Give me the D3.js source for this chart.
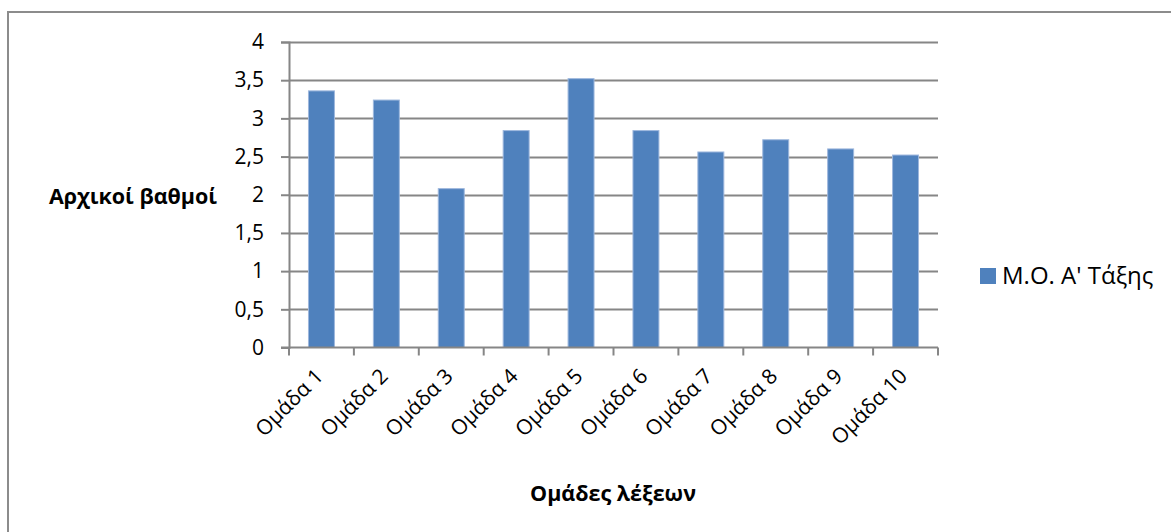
<!DOCTYPE html>
<html>
<head>
<meta charset="utf-8">
<script src="https://cdn.jsdelivr.net/npm/d3@7"></script>
<style>
  html, body { margin: 0; padding: 0; background: #fff; }
  svg { display: block; font-family: "Open Sans", "Noto Sans", sans-serif; }
</style>
</head>
<body>
<svg id="chart" width="1171" height="532"></svg>
<script>
// Category labels along the x axis
const categories = ["Ομάδα 1", "Ομάδα 2", "Ομάδα 3", "Ομάδα 4", "Ομάδα 5",
                    "Ομάδα 6", "Ομάδα 7", "Ομάδα 8", "Ομάδα 9", "Ομάδα 10"];
// Mean score of the first grade per word group
const values = [3.36, 3.24, 2.08, 2.84, 3.52, 2.84, 2.56, 2.72, 2.60, 2.52];
const seriesName = "Μ.Ο. Α' Τάξης";
const yTicks = [0, 0.5, 1, 1.5, 2, 2.5, 3, 3.5, 4];
const yTitle = "Αρχικοί βαθμοί";
const xTitle = "Ομάδες λέξεων";

const svg = d3.select("#chart");
const W = 1171, H = 532;
const plot = { left: 289, right: 938, top: 42, bottom: 347.5 };
const barColor = "#4F81BD";
const gridColor = "#868686";

// Outer frame
svg.append("rect")
  .attr("x", 8).attr("y", 12)
  .attr("width", W + 10).attr("height", H + 10)
  .attr("fill", "none").attr("stroke", "#8c8c8c").attr("stroke-width", 2);

const x = d3.scaleBand().domain(categories)
  .range([plot.left, plot.right]).paddingInner(0.6).paddingOuter(0.3);
const xEdge = d3.scaleLinear().domain([0, categories.length])
  .range([plot.left, plot.right]);
const y = d3.scaleLinear().domain([0, 4]).range([plot.bottom, plot.top]);

// Horizontal gridlines
svg.append("g").selectAll("line").data(yTicks.filter(d => d > 0)).join("line")
  .attr("x1", plot.left).attr("x2", plot.right)
  .attr("y1", d => Math.round(y(d)) + 0.5).attr("y2", d => Math.round(y(d)) + 0.5)
  .attr("stroke", gridColor).attr("stroke-width", 2);

// Bars
svg.append("g").selectAll("rect").data(values).join("rect")
  .attr("x", (d, i) => x(categories[i]))
  .attr("y", d => y(d))
  .attr("width", x.bandwidth())
  .attr("height", d => y(0) - y(d))
  .attr("fill", barColor)
  .attr("stroke", "#9db7dd").attr("stroke-width", 1);

// Y axis
const yAxis = d3.axisLeft(y).tickValues(yTicks).tickSize(8).tickPadding(17)
  .tickFormat(d => String(d).replace(".", ","));
const gy = svg.append("g").attr("transform", `translate(${plot.left},0)`).call(yAxis);
gy.select(".domain").attr("stroke", gridColor).attr("stroke-width", 2);
gy.selectAll(".tick line").attr("stroke", gridColor).attr("stroke-width", 2);
gy.selectAll(".tick text").attr("font-size", 21).attr("fill", "#000")
  .attr("font-family", "'Open Sans', sans-serif");

// X axis line with ticks at category edges
const gx = svg.append("g").attr("transform", `translate(0,${plot.bottom})`);
gx.append("line").attr("x1", plot.left - 8).attr("x2", plot.right)
  .attr("y1", 0).attr("y2", 0).attr("stroke", gridColor).attr("stroke-width", 2);
gx.selectAll("line.tk").data(d3.range(categories.length + 1)).join("line")
  .attr("class", "tk")
  .attr("x1", i => xEdge(i)).attr("x2", i => xEdge(i))
  .attr("y1", 0).attr("y2", 8)
  .attr("stroke", gridColor).attr("stroke-width", 2);

// Rotated category labels
gx.selectAll("text").data(categories).join("text")
  .attr("transform", d => `translate(${x(d) + x.bandwidth() / 2 + 3},${30}) rotate(-45)`)
  .attr("text-anchor", "end")
  .attr("font-size", 21)
  .attr("fill", "#000")
  .text(d => d);

// Axis titles
svg.append("text").attr("x", 133).attr("y", 204)
  .attr("text-anchor", "middle").attr("font-size", 21.5).attr("font-weight", "bold")
  .text(yTitle);
svg.append("text").attr("x", 613).attr("y", 501)
  .attr("text-anchor", "middle").attr("font-size", 21.5).attr("font-weight", "bold")
  .text(xTitle);

// Legend
const lg = svg.append("g").attr("transform", "translate(980,268)");
lg.append("rect").attr("width", 16).attr("height", 16).attr("fill", barColor);
lg.append("text").attr("x", 22).attr("y", 16).attr("font-size", 24).attr("fill", "#000")
  .text(seriesName);
</script>
</body>
</html>
